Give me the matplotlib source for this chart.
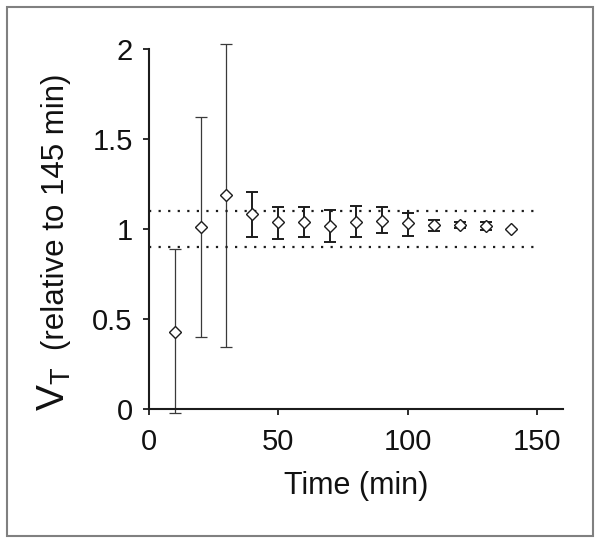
import numpy as np
import matplotlib
matplotlib.use('Agg')
import matplotlib.pyplot as plt
from matplotlib.patches import Rectangle

plt.rcParams['font.family'] = ['Liberation Sans', 'DejaVu Sans']

# data
times = [10, 20, 30, 40, 50, 60, 70, 80, 90, 100, 110, 120, 130, 140]
vt = [0.43, 1.015, 1.19, 1.085, 1.04, 1.04, 1.018, 1.04, 1.048, 1.033, 1.024, 1.024, 1.018, 1.0]
upper = [0.89, 1.625, 2.03, 1.207, 1.122, 1.122, 1.107, 1.131, 1.122, 1.092, 1.052, 1.04, 1.043, 1.0]
lower = [-0.02, 0.40, 0.346, 0.955, 0.944, 0.955, 0.931, 0.955, 0.978, 0.963, 0.99, 1.008, 0.996, 1.0]
band = [0.9, 1.1]

W, H = 601, 544
fig = plt.figure(figsize=(W / 100, H / 100), dpi=100)
ax = fig.add_axes([148.7 / W, 1 - 409.3 / H, 414.6 / W, 360 / H])

t = np.array(times)
v = np.array(vt)
err = np.array([v - np.array(lower), np.array(upper) - v])

ink = '#1c1c1c'
# early time points: thin bars
ax.errorbar(t[:3], v[:3], yerr=err[:, :3], fmt='none', ecolor='#3a3a3a',
            elinewidth=0.9, capsize=4, capthick=0.9, clip_on=False)
# later time points: heavier bars
ax.errorbar(t[3:13], v[3:13], yerr=err[:, 3:13], fmt='none', ecolor=ink,
            elinewidth=1.4, capsize=4, capthick=1.4, clip_on=False)
ax.plot(t, v, 'D', ms=6.5, mfc='white', mec=ink, mew=1.0, clip_on=False, zorder=5)

for b in band:
    ax.hlines(b, 0, 150, colors=ink, linestyles=(0, (1, 3.3)), linewidth=1.6)

ax.set_xlim(0, 160)
ax.set_ylim(0, 2)
ax.set_xticks([0, 50, 100, 150])
ax.set_yticks([0, 0.5, 1, 1.5, 2])
ax.set_yticklabels(['0', '0.5', '1', '1.5', '2'])

for s in ['top', 'right']:
    ax.spines[s].set_visible(False)
for s in ['left', 'bottom']:
    ax.spines[s].set_linewidth(1.5)
    ax.spines[s].set_color(ink)
ax.tick_params(direction='out', length=4.5, width=1.3, color=ink,
               labelsize=21, pad=7, labelcolor='#111111')
ax.tick_params(axis='x', pad=9)

ax.set_xlabel('Time (min)', fontsize=22, labelpad=11, color='#111111')

# y label: big V_T plus smaller text
fig.text(54 / W, 1 - 389 / H, r'$\mathregular{V_T}$', rotation=90, fontsize=28,
         ha='center', va='center', color='#111111')
fig.text(56 / W, 1 - 212 / H, '(relative to 145 min)', rotation=90, fontsize=22.5,
         ha='center', va='center', color='#111111')

fig.patches.append(Rectangle((7 / W, 1 - 536 / H), 586 / W, 529 / H,
                             transform=fig.transFigure, fill=False,
                             edgecolor='#808080', linewidth=1.5))

fig.savefig('out.png', dpi=100)
